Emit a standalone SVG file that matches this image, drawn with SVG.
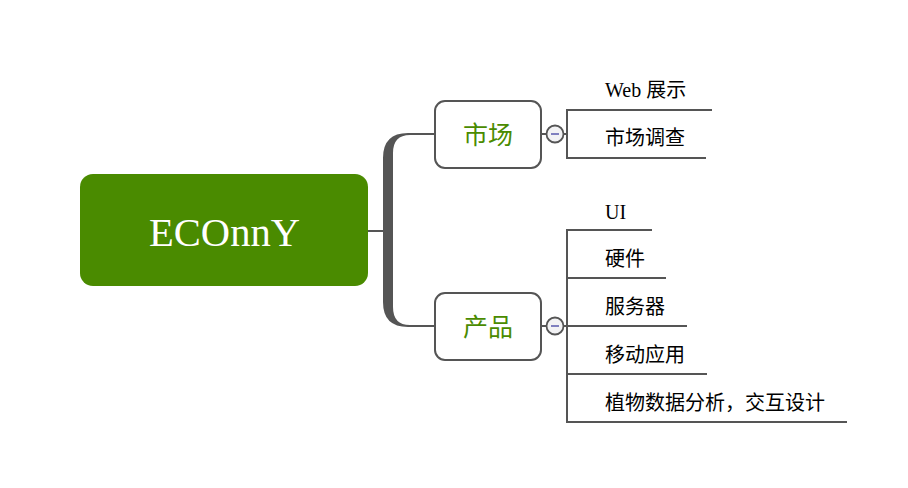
<svg xmlns="http://www.w3.org/2000/svg" width="908" height="488" viewBox="0 0 908 488">
<style>
.ln{stroke:#555;stroke-width:2;fill:none}
.box{fill:#fff;stroke:#555;stroke-width:2}
.main{font-family:"Liberation Serif","Noto Sans CJK SC",serif;font-size:25px;fill:#4a8b00;text-anchor:middle}
.sub{font-family:"Liberation Serif","Noto Sans CJK SC",serif;font-size:20px;fill:#000}
.tog{fill:#f2f2f4;stroke:#555;stroke-width:1.8}
.minus{stroke:#7f7fbf;stroke-width:2}
</style>
<rect width="908" height="488" fill="#fff"/>
<g id="connectors">
<line class="ln" x1="368" y1="231" x2="385" y2="231"/>
<path d="M435,133 H408 Q383,133 383,158 V302 Q383,327 408,327 H435 V325 H410 Q393,325 393,307 V153 Q393,135 410,135 H435 Z" fill="#555"/>
<line class="ln" x1="541" y1="134" x2="546" y2="134"/>
<line class="ln" x1="563" y1="134" x2="567" y2="134"/>
<path class="ln" d="M712,110 H567 V158 H706"/>
<line class="ln" x1="541" y1="326" x2="546" y2="326"/>
<line class="ln" x1="563" y1="326" x2="567" y2="326"/>
<path class="ln" d="M652,230 H567 V422 H847"/>
<line class="ln" x1="567" y1="278" x2="666" y2="278"/>
<line class="ln" x1="567" y1="326" x2="687" y2="326"/>
<line class="ln" x1="567" y1="374" x2="707" y2="374"/>
</g>
<g id="root">
<rect x="80" y="174" width="288" height="112" rx="13" fill="#4a8b00"/>
<text x="149" y="246" font-family="Liberation Serif, serif" font-size="41" fill="#fff" textLength="151" lengthAdjust="spacingAndGlyphs">ECOnnY</text>
</g>
<g id="node-market">
<rect class="box" x="435" y="101" width="106" height="67" rx="10"/>
<text class="main" x="488" y="144">市场</text>
<circle class="tog" cx="555" cy="134" r="8.5"/>
<line class="minus" x1="551" y1="134" x2="559" y2="134"/>
</g>
<g id="node-product">
<rect class="box" x="435" y="293" width="106" height="67" rx="10"/>
<text class="main" x="488" y="336">产品</text>
<circle class="tog" cx="555" cy="326" r="8.5"/>
<line class="minus" x1="551" y1="326" x2="559" y2="326"/>
</g>
<g id="leaf-web"><text class="sub" x="605" y="97">Web 展示</text></g>
<g id="leaf-survey"><text class="sub" x="605" y="145">市场调查</text></g>
<g id="leaf-ui"><text class="sub" x="605" y="219">UI</text></g>
<g id="leaf-hw"><text class="sub" x="605" y="266">硬件</text></g>
<g id="leaf-server"><text class="sub" x="605" y="314">服务器</text></g>
<g id="leaf-mobile"><text class="sub" x="605" y="362">移动应用</text></g>
<g id="leaf-plant"><text class="sub" x="605" y="410">植物数据分析，交互设计</text></g>
</svg>
